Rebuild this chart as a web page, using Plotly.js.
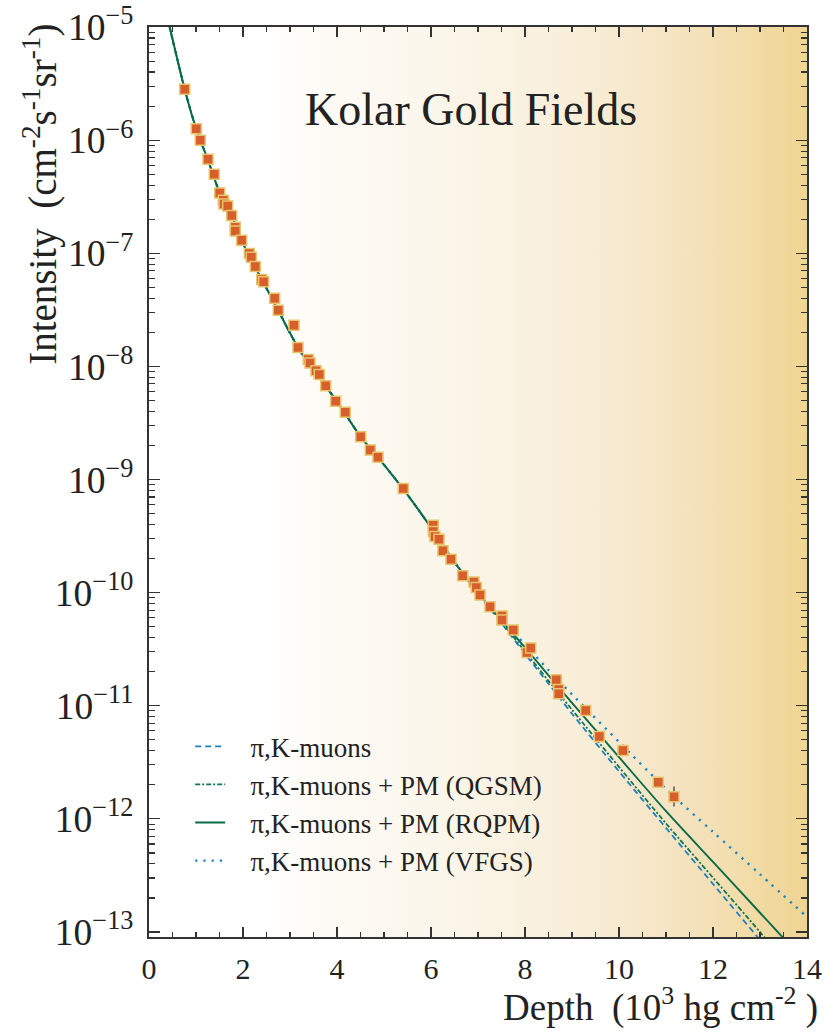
<!DOCTYPE html>
<html>
<head>
<meta charset="utf-8">
<script src="https://cdn.plot.ly/plotly-3.0.1.min.js"></script>
<style>
  body { margin: 0; background: #ffffff; }
  #wrap { position: relative; width: 837px; height: 1032px; }
  #bg { position: absolute; left: 149px; top: 27px; width: 658px; height: 910px;
        background: linear-gradient(to right, #ffffff 0%, #ffffff 17%, #fefcf8 23%, #fbf6ea 45%, #f8eed9 65%, #f5e4c2 80%, #efd592 100%); }
  #chart { position: absolute; left: 0; top: 0; width: 837px; height: 1032px; }
</style>
</head>
<body>
<div id="wrap"><div id="bg"></div><div id="chart"></div></div>
<script>
// ---- Measured data (Kolar Gold Fields) ----
const depthData = [0.760, 1.006, 1.091, 1.255, 1.389, 1.504, 1.581, 1.596, 1.674, 1.760,
  1.836, 1.836, 1.972, 2.134, 2.177, 2.262, 2.398, 2.440, 2.674, 2.751,
  3.085, 3.170, 3.389, 3.426, 3.553, 3.623, 3.760, 3.972, 4.177, 4.504,
  4.709, 4.872, 5.411, 6.049, 6.049, 6.085, 6.170, 6.255, 6.426, 6.674,
  6.915, 6.964, 7.043, 7.255, 7.511, 7.511, 7.751, 8.043, 8.121, 8.666,
  8.717, 8.717, 9.291, 9.581, 10.085, 10.836, 11.170];
const intensityData = [2.81e-6, 1.26e-6, 1.00e-6, 6.79e-7, 5.00e-7, 3.41e-7, 2.94e-7, 2.72e-7, 2.62e-7, 2.16e-7,
  1.70e-7, 1.57e-7, 1.30e-7, 9.93e-8, 9.22e-8, 7.62e-8, 5.85e-8, 5.60e-8, 4.00e-8, 3.13e-8,
  2.31e-8, 1.47e-8, 1.15e-8, 1.07e-8, 9.17e-9, 8.49e-9, 6.75e-9, 4.93e-9, 3.94e-9, 2.39e-9,
  1.82e-9, 1.57e-9, 8.32e-10, 3.94e-10, 3.47e-10, 3.13e-10, 2.97e-10, 2.34e-10, 1.97e-10, 1.41e-10,
  1.24e-10, 1.11e-10, 9.54e-11, 7.52e-11, 6.22e-11, 5.73e-11, 4.67e-11, 2.96e-11, 3.24e-11, 1.70e-11,
  1.39e-11, 1.28e-11, 9.08e-12, 5.35e-12, 4.02e-12, 2.11e-12, 1.57e-12];
const errPlus = [0, 0.10e-6, 0, 0, 0.04e-7, 0, 0, 0, 0, 0,
  0, 0, 0, 0, 0, 0, 0, 0, 0, 0,
  0, 0, 0, 0, 0, 0, 0, 0, 0, 0,
  0, 0, 0, 0, 0, 0, 0, 0, 0, 0,
  0, 0, 0, 0, 0, 0, 0, 0, 0, 0,
  0.10e-11, 0.10e-11, 0.5e-12, 0.3e-12, 0.25e-12, 0.20e-12, 0.36e-12];
const errMinus = [0, 0.10e-6, 0, 0, 0.04e-7, 0, 0, 0, 0, 0,
  0, 0, 0, 0, 0, 0, 0, 0, 0, 0,
  0, 0, 0, 0, 0, 0, 0, 0, 0, 0,
  0, 0, 0, 0, 0, 0, 0, 0, 0, 0,
  0, 0, 0, 0, 0, 0, 0, 0, 0, 0,
  0.10e-11, 0.10e-11, 0.5e-12, 0.3e-12, 0.22e-12, 0.18e-12, 0.28e-12];

// ---- Model curves (common part, then diverging tails) ----
const commonDepth = [0.40, 0.60, 0.76, 1.00, 1.25, 1.50, 1.75, 2.00, 2.25, 2.50, 2.75, 3.00, 3.25, 3.50, 3.75, 4.00, 4.50, 5.00, 5.50, 6.00, 6.50];
const commonIntensity = [1.17e-5, 5.25e-6, 2.80e-6, 1.27e-6, 6.76e-7, 3.47e-7, 2.19e-7, 1.22e-7, 7.64e-8, 4.90e-8, 3.13e-8, 1.97e-8, 1.30e-8, 9.55e-9, 6.76e-9, 4.90e-9, 2.40e-9, 1.35e-9, 7.33e-10, 3.76e-10, 1.86e-10];

const piKDepth = [7.0, 7.5, 8.0, 8.5, 9.0, 10.0, 11.0, 12.0, 13.0, 13.2];
const piKIntensity = [9.77e-11, 5.37e-11, 2.88e-11, 1.57e-11, 8.51e-12, 2.63e-12, 8.32e-13, 2.66e-13, 8.51e-14, 6.76e-14];

const qgsmDepth = [7.0, 7.5, 8.0, 8.5, 9.0, 10.0, 11.0, 12.0, 13.0, 13.3];
const qgsmIntensity = [9.89e-11, 5.50e-11, 3.02e-11, 1.66e-11, 9.23e-12, 2.88e-12, 9.12e-13, 3.02e-13, 1.00e-13, 7.08e-14];

const rqpmDepth = [7.0, 7.5, 8.0, 8.5, 9.0, 10.0, 11.0, 12.0, 13.0, 13.8];
const rqpmIntensity = [1.00e-10, 5.69e-11, 3.27e-11, 1.86e-11, 1.06e-11, 3.51e-12, 1.17e-12, 4.17e-13, 1.48e-13, 6.46e-14];

const vfgsDepth = [7.0, 7.5, 8.0, 8.5, 9.0, 10.0, 11.0, 12.0, 13.0, 14.0];
const vfgsIntensity = [1.02e-10, 5.96e-11, 3.47e-11, 2.07e-11, 1.26e-11, 4.79e-12, 1.84e-12, 7.67e-13, 3.24e-13, 1.36e-13];

const seriesNames = ['\u03c0,K-muons', '\u03c0,K-muons + PM (QGSM)', '\u03c0,K-muons + PM (RQPM)', '\u03c0,K-muons + PM (VFGS)'];

const pad = '\u00a0\u00a0\u00a0';
const FONT = 'Liberation Serif';

function curve(name, tx, ty, color, dash, width, rank) {
  return {
    x: commonDepth.concat(tx), y: commonIntensity.concat(ty),
    type: 'scatter', mode: 'lines', name: pad + name,
    line: { color: color, dash: dash, width: width, shape: 'spline', smoothing: 0.8 },
    legendrank: rank, legendgroup: 'g' + rank, hoverinfo: 'skip'
  };
}

const traces = [
  curve(seriesNames[3], vfgsDepth, vfgsIntensity, '#1a86c4', '2.2px,6px', 2.4, 4),
  curve(seriesNames[0], piKDepth, piKIntensity, '#1f7fbf', '6px,4px', 1.8, 1),
  curve(seriesNames[1], qgsmDepth, qgsmIntensity, '#0f7650', '5px,2px,2px,2px', 1.8, 2),
  curve(seriesNames[2], rqpmDepth, rqpmIntensity, '#0b6a46', 'solid', 1.9, 3),
  {
    x: depthData, y: intensityData, type: 'scatter', mode: 'markers', showlegend: false,
    marker: { symbol: 'square', size: 10, color: '#d65f2b', line: { color: '#e8c46c', width: 1.5 } },
    error_y: { type: 'data', array: errPlus, arrayminus: errMinus, color: '#333', thickness: 1.2, width: 0 }
  }
];

const axisCommon = {
  showline: true, linecolor: '#333', linewidth: 1.6, mirror: 'ticks',
  ticks: 'inside', tickcolor: '#333', tickwidth: 1.2, showgrid: false, zeroline: false,
  tickfont: { family: FONT, size: 30, color: '#222' }
};

const layout = {
  width: 837, height: 1032,
  margin: { l: 149, r: 30, t: 27, b: 95 },
  paper_bgcolor: 'rgba(0,0,0,0)', plot_bgcolor: 'rgba(0,0,0,0)',
  font: { family: FONT, color: '#222' },
  showlegend: true,
  xaxis: Object.assign({}, axisCommon, {
    range: [0, 14], dtick: 2, tick0: 0, ticklen: 10, ticklabelstandoff: 4,
    minor: { dtick: 0.5, ticklen: 5, tickcolor: '#333', tickwidth: 1.1, ticks: 'inside' }
  }),
  yaxis: Object.assign({}, axisCommon, {
    type: 'log', range: [-13.044, -5], dtick: 1, exponentformat: 'power', ticklen: 11, ticklabelstandoff: 8,
    minor: { dtick: 'D1', ticklen: 6, tickcolor: '#333', tickwidth: 1.1, ticks: 'inside' }
  }),
  legend: {
    x: 0.0626, y: 0.236, xanchor: 'left', yanchor: 'top',
    bgcolor: 'rgba(0,0,0,0)', borderwidth: 0,
    font: { family: FONT, size: 27, color: '#222' },
    itemwidth: 30, tracegroupgap: 0, traceorder: 'normal'
  },
  annotations: [
    { text: 'Kolar Gold Fields', xref: 'paper', yref: 'paper', x: 0.4894, y: 0.9088,
      xanchor: 'center', yanchor: 'middle', showarrow: false,
      font: { family: FONT, size: 46, color: '#222' } },
    { text: 'Intensity\u00a0\u00a0(cm<sup>-2</sup>s<sup>-1</sup>sr<sup>-1</sup>)', xref: 'paper', yref: 'paper',
      x: -0.166, y: 1.006, xanchor: 'center', yanchor: 'top', textangle: -90, showarrow: false,
      font: { family: FONT, size: 39, color: '#222' } },
    { text: 'Depth\u00a0\u00a0(10<sup>3</sup> hg cm<sup>-2</sup> )', xref: 'paper', yref: 'paper',
      x: 1.0198, y: -0.0747, xanchor: 'right', yanchor: 'middle', showarrow: false,
      font: { family: FONT, size: 37, color: '#222' } }
  ]
};

Plotly.newPlot('chart', traces, layout, { staticPlot: true, displayModeBar: false });
</script>
</body>
</html>
